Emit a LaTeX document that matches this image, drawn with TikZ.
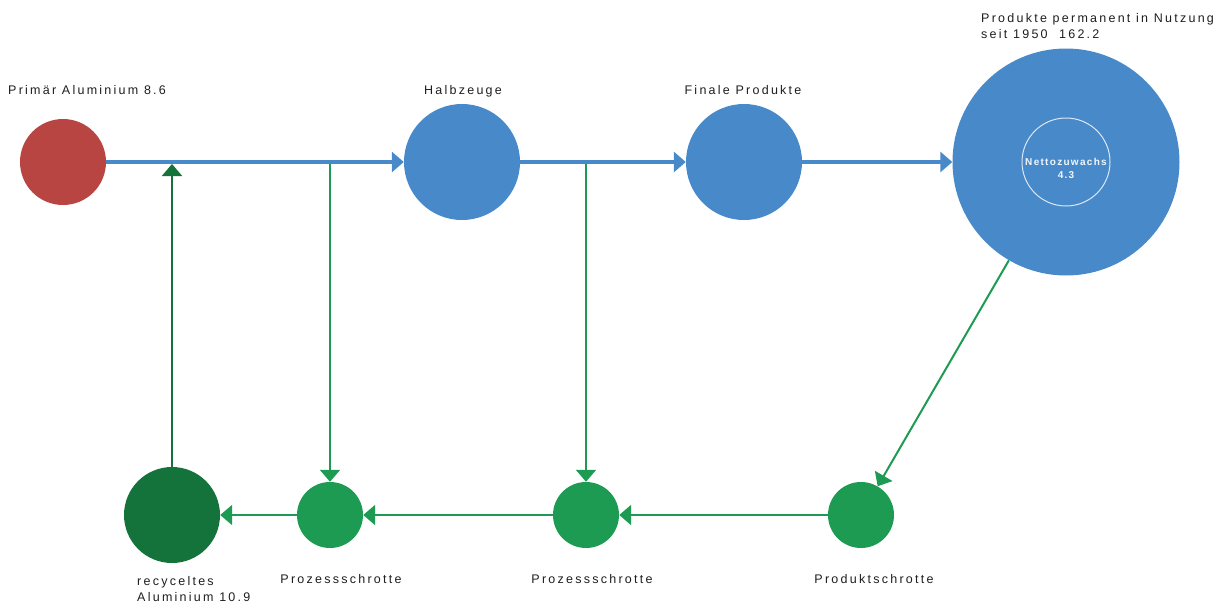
\documentclass[tikz,border=0pt]{standalone}
\usepackage{fontspec}
\setmainfont{Liberation Sans}
\newfontfamily\labfont[LetterSpace=18]{Liberation Sans}
\newfontfamily\innerfont[LetterSpace=13]{Liberation Sans}
\usetikzlibrary{arrows.meta}
\definecolor{cred}{RGB}{185,69,67}
\definecolor{cblue}{RGB}{72,137,202}
\definecolor{cdgreen}{RGB}{20,115,58}
\definecolor{cgreen}{RGB}{30,155,82}
\definecolor{ctext}{RGB}{30,30,30}
\tikzset{
  bub/.style={circle, inner sep=0pt, draw=none},
  lab/.style={font=\labfont\fontsize{12.5}{16}\selectfont, text=ctext, inner sep=0pt, align=left},
  bflow/.style={draw=cblue, line width=4pt, -{Triangle[length=12pt,width=20pt]}},
  gflow/.style={draw=cgreen, line width=2pt, -{Triangle[length=12pt,width=20pt]}},
  dgflow/.style={draw=cdgreen, line width=2pt, -{Triangle[length=12pt,width=20pt]}},
}
\begin{document}
\begin{tikzpicture}[x=1pt,y=-1pt]
\useasboundingbox (0,0) rectangle (1227,605);
% bubbles
\node[bub, fill=cred, minimum size=86pt] (prim) at (63,162) {};
\node[bub, fill=cblue, minimum size=116pt] (halb) at (462,162) {};
\node[bub, fill=cblue, minimum size=116pt] (fin) at (744,162) {};
\node[bub, fill=cblue, minimum size=227pt] (nutz) at (1066,162) {};
\node[bub, draw=white!80!cblue, line width=1pt, minimum size=88pt] (netto) at (1066,162) {};
\node[bub, fill=cdgreen, minimum size=96pt] (rec) at (172,515) {};
\node[bub, fill=cgreen, minimum size=66pt] (pz1) at (330,515) {};
\node[bub, fill=cgreen, minimum size=66pt] (pz2) at (586,515) {};
\node[bub, fill=cgreen, minimum size=66pt] (prod) at (861,515) {};
% branch points on blue line
\coordinate (b1) at (330,164);
\coordinate (b2) at (586,164);
\coordinate (r1) at (172,164);
% flows
\draw[bflow] (prim) -- (halb);
\draw[bflow] (halb) -- (fin);
\draw[bflow] (fin) -- (nutz);
\draw[gflow] (b1) -- (pz1);
\draw[gflow] (b2) -- (pz2);
\draw[dgflow] (rec) -- (r1);
\draw[gflow] (nutz) -- (prod);
\draw[gflow] (prod) -- (pz2);
\draw[gflow] (pz2) -- (pz1);
\draw[gflow] (pz1) -- (rec);
% labels
\node[lab, anchor=base west] (lprim) at (8,94) {Primär Aluminium 8.6};
\node[lab, anchor=base] (lhalb) at (463,94) {Halbzeuge};
\node[lab, anchor=base] (lfin) at (743,94) {Finale Produkte};
\node[lab, anchor=base west] (lnutz) at (981,38) {Produkte permanent in Nutzung\\seit 1950~~162.2};
\node[font=\innerfont\bfseries\fontsize{10}{13}\selectfont, text=white!92!cblue, align=center, inner sep=0pt, anchor=base] (lnetto) at (1066,178) {Nettozuwachs\\4.3};
\node[lab, anchor=base west] (lrec) at (137,601) {recyceltes\\Aluminium~10.9};
\node[lab, anchor=base] (lpz1) at (341,583) {Prozessschrotte};
\node[lab, anchor=base] (lpz2) at (592,583) {Prozessschrotte};
\node[lab, anchor=base] (lprod) at (874,583) {Produktschrotte};
\end{tikzpicture}
\end{document}
